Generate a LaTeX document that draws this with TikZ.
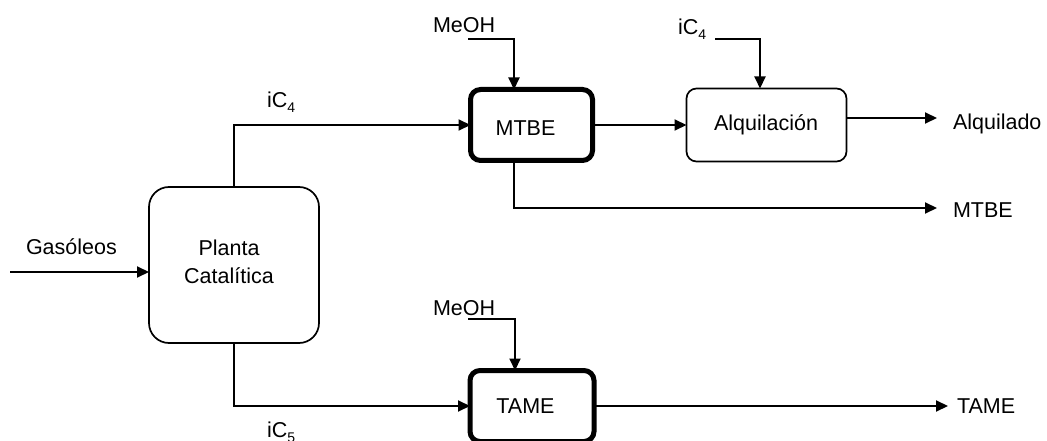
\documentclass[tikz,border=0pt]{standalone}
\usepackage{fontspec}
\setmainfont{Liberation Sans}
\usetikzlibrary{arrows.meta}
\newcommand\subsc[1]{\raisebox{-5pt}{\fontsize{14}{14}\selectfont #1}}
\begin{document}
\begin{tikzpicture}[x=1pt,y=-1pt,
  every node/.style={font=\fontsize{21.5}{28}\selectfont, inner sep=0pt, outer sep=0pt},
  conn/.style={line width=2pt, -{Triangle[length=12pt,width=11pt]}},
  thinbox/.style={draw, line width=1.7pt, rounded corners=10pt},
  heavybox/.style={draw, line width=5pt, rounded corners=10pt},
  lbl/.style={anchor=base west},
  clbl/.style={anchor=base}]
\useasboundingbox (0,0) rectangle (1047,441);
% boxes
\node[thinbox, rounded corners=20pt, minimum width=170pt, minimum height=156pt] (planta) at (234,265) {};
\node[heavybox, minimum width=122pt, minimum height=71pt] (mtbe) at (531.5,125) {};
\node[thinbox, minimum width=160pt, minimum height=73pt] (alq) at (766.5,125) {};
\node[heavybox, minimum width=124pt, minimum height=71pt] (tame) at (532,406) {};
% box texts
\node[clbl] (plantaA) at (229,255) {Planta};
\node[clbl] (plantaB) at (229,283) {Catalítica};
\node[clbl] (mtbeT) at (525.5,136) {MTBE};
\node[clbl] (alqT) at (766,131) {Alquilación};
\node[clbl] (tameT) at (525.5,413) {TAME};
% stream labels
\node[lbl] (gasL) at (26,254) {Gasóleos};
\node[lbl] (ic4L) at (267,108) {iC\subsc{4}};
\node[lbl] (ic5L) at (267,437) {iC\subsc{5}};
\node[lbl] (meoh1L) at (433,33) {MeOH};
\node[lbl] (ic4tL) at (678,35) {iC\subsc{4}};
\node[lbl] (meoh2L) at (433,315) {MeOH};
\node[lbl] (alqoL) at (953,130) {Alquilado};
\node[lbl] (mtbeoL) at (953,217) {MTBE};
\node[lbl] (tameoL) at (957,413) {TAME};
% connector end points
\coordinate (gasin) at (10,272);
\coordinate (meoh1) at (468,39);
\coordinate (mtbeout) at (937,208);
\coordinate (ic4top) at (715,39);
\coordinate (alqout) at (937,118);
\coordinate (meoh2) at (468,319);
\coordinate (tameout) at (948,406);
% connectors
\draw[conn] (gasin) -- (gasin -| planta.west);
\draw[conn] (planta.north) |- (mtbe.west);
\draw[conn] (planta.south) |- (tame.west);
\draw[conn] (meoh1) -| ([xshift=-17.5pt]mtbe.north);
\draw[conn] ([xshift=-17.5pt]mtbe.south) |- (mtbeout);
\draw[conn] (mtbe.east) -- (alq.west);
\draw[conn] (ic4top) -| ([xshift=-6.5pt]alq.north);
\draw[conn] (alq.east |- alqout) -- (alqout);
\draw[conn] (meoh2) -| ([xshift=-17pt]tame.north);
\draw[conn] (tame.east) -- (tameout);
\end{tikzpicture}
\end{document}
